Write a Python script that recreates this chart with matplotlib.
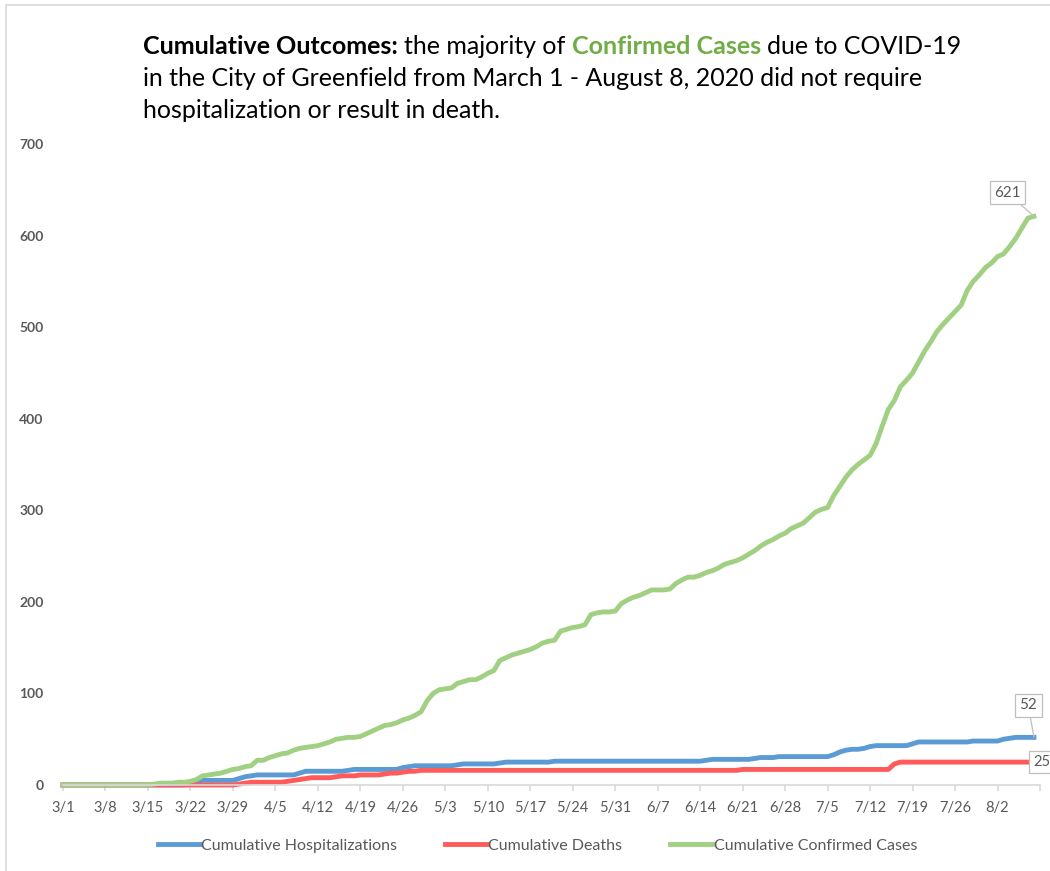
import datetime
import matplotlib
matplotlib.use("Agg")
import matplotlib.pyplot as plt
from matplotlib.patches import Rectangle

plt.rcParams['font.family'] = ['Lato', 'DejaVu Sans']

# 每天一个点：2020-03-01 到 2020-08-08
start = datetime.date(2020, 3, 1)
n_days = 161
dates = [start + datetime.timedelta(days=i) for i in range(n_days)]

# 累计确诊
confirmed = [0] * 15 + [
    1, 2, 2, 2, 3, 3, 4, 6, 10, 11, 12, 13, 15, 17, 18,
    20, 21, 27, 27, 30, 32, 34, 35, 38, 40, 41, 42, 43, 45, 47,
    50, 51, 52, 52, 53, 56, 59, 62, 65, 66, 68, 71, 73, 76, 80,
    92, 100, 104, 105, 106, 111, 113, 115, 115, 118, 122, 125, 136, 139, 142,
    144, 146, 148, 151, 155, 157, 158, 168, 170, 172, 173, 175, 186, 188, 189,
    189, 190, 198, 202, 205, 207, 210, 213, 213, 213, 214, 220, 224, 227, 227,
    229, 232, 234, 237, 241, 243, 245, 248, 252, 256, 261, 265, 268, 272, 275,
    280, 283, 286, 292, 298, 301, 303, 316, 326, 336, 344, 350, 355, 360, 373,
    392, 410, 420, 435, 442, 450, 462, 474, 484, 495, 503, 510, 517, 524, 540,
    550, 557, 565, 570, 577, 580, 588, 597, 608, 619, 621]

# 累计住院
hospital = [0] * 21 + [
    1, 3, 5, 5, 5, 5, 5, 5, 7, 9, 10, 11, 11, 11, 11,
    11, 11, 11, 13, 15, 15, 15, 15, 15, 15, 15, 16, 17, 17, 17,
    17, 17, 17, 17, 17, 19, 20, 21, 21, 21, 21, 21, 21, 21, 22,
    23, 23, 23, 23, 23, 23, 24, 25, 25, 25, 25, 25, 25, 25, 25,
    26, 26, 26, 26, 26, 26, 26, 26, 26, 26, 26, 26, 26, 26, 26,
    26, 26, 26, 26, 26, 26, 26, 26, 26, 26, 27, 28, 28, 28, 28,
    28, 28, 28, 29, 30, 30, 30, 31, 31, 31, 31, 31, 31, 31, 31,
    31, 33, 36, 38, 39, 39, 40, 42, 43, 43, 43, 43, 43, 43, 45,
    47, 47, 47, 47, 47, 47, 47, 47, 47, 48, 48, 48, 48, 48, 50,
    51, 52, 52, 52, 52]

# 累计死亡
deaths = [0] * 29 + [
    1, 2, 3, 3, 3, 3, 3, 3, 4, 5, 6, 7, 8, 8, 8,
    8, 9, 10, 10, 10, 11, 11, 11, 11, 12, 13, 13, 14, 15, 15] + \
    [16] * 53 + [17] * 25 + [23] + [25] * 23

tick_idx = list(range(0, n_days + 1, 7))
tick_labels = [f"{d.month}/{d.day}" for d in dates[::7]] + [""]

blue = '#5B9BD5'
red = '#FF5B5B'
green = '#A2D083'
grey = '#595959'

fig = plt.figure(figsize=(10.5, 8.71), dpi=100)
ax = fig.add_axes([63 / 1050, 86 / 871, 977 / 1050, 641 / 871])

x = list(range(n_days))
ax.plot(x, hospital, color=blue, lw=3.5, label='Cumulative Hospitalizations', clip_on=False, solid_joinstyle='round')
ax.plot(x, deaths, color=red, lw=3.5, label='Cumulative Deaths', clip_on=False, solid_joinstyle='round')
ax.plot(x, confirmed, color=green, lw=3.5, label='Cumulative Confirmed Cases', clip_on=False, solid_joinstyle='round')

ax.set_xlim(0, 161)
ax.set_ylim(0, 700)
ax.set_yticks(range(0, 701, 100))
ax.set_xticks(tick_idx)
ax.set_xticklabels(tick_labels)
for s in ['top', 'right', 'left']:
    ax.spines[s].set_visible(False)
ax.spines['bottom'].set_color('#D9D9D9')
ax.spines['bottom'].set_linewidth(1.2)
ax.tick_params(axis='x', length=4.5, color='#D9D9D9', width=1.2, labelsize=10.5, labelcolor=grey, pad=7)
ax.tick_params(axis='y', length=0, labelsize=10, labelcolor=grey, pad=14)
for lab in ax.get_yticklabels():
    lab.set_fontweight('bold')

# 数据标签
box = dict(boxstyle='square,pad=0.3', fc='white', ec='#BFBFBF', lw=0.9)
arrow = dict(arrowstyle='-', color='#BFBFBF', lw=0.9, shrinkA=0, shrinkB=0)
ax.annotate(str(confirmed[-1]), (160, confirmed[-1]), xytext=(-19, 17), textcoords='offset points',
            ha='center', va='center', fontsize=11, color=grey, bbox=box, arrowprops=arrow, annotation_clip=False)
ax.annotate(str(hospital[-1]), (160, hospital[-1]), xytext=(-4, 23), textcoords='offset points',
            ha='center', va='center', fontsize=11, color=grey, bbox=box, arrowprops=arrow, annotation_clip=False)
ax.annotate(str(deaths[-1]), (160, deaths[-1]), xytext=(5.5, 0), textcoords='offset points',
            ha='center', va='center', fontsize=10.5, color=grey, bbox=box, annotation_clip=False)

fig.legend(loc='center', bbox_to_anchor=(0.512, 0.029), ncol=3, frameon=False,
           fontsize=11.5, labelcolor=grey, handlelength=2.6, handletextpad=0.1, columnspacing=3.0)

# 外框
fig.patches.append(Rectangle((6 / 1050, -0.05), 1.1, 1 - 5 / 871 + 0.05, transform=fig.transFigure,
                             fill=False, ec='#D9D9D9', lw=1.2))

# 标题（混合字体样式）
fig.canvas.draw()
renderer = fig.canvas.get_renderer()
W = fig.bbox.width
title_size = 18


def width_of(s, weight):
    t = fig.text(0, 0, s, fontsize=title_size, fontweight=weight)
    w = t.get_window_extent(renderer).width
    t.remove()
    return w


def put_line(y_px, pieces):
    xp = 143
    for text, weight, color in pieces:
        fig.text(xp / W, 1 - y_px / 871, text, fontsize=title_size, fontweight=weight,
                 color=color, va='baseline', ha='left')
        space = width_of('a a', weight) - width_of('aa', weight)
        xp += width_of(text, weight) + space


put_line(54, [('Cumulative Outcomes:', 'bold', 'black'),
              ('the majority of', 'normal', 'black'),
              ('Confirmed Cases', 'bold', '#70AD47'),
              ('due to COVID-19', 'normal', 'black')])
put_line(86, [('in the City of Greenfield from March 1 - August 8, 2020 did not require', 'normal', 'black')])
put_line(118, [('hospitalization or result in death.', 'normal', 'black')])

fig.savefig('out.png', dpi=100)
